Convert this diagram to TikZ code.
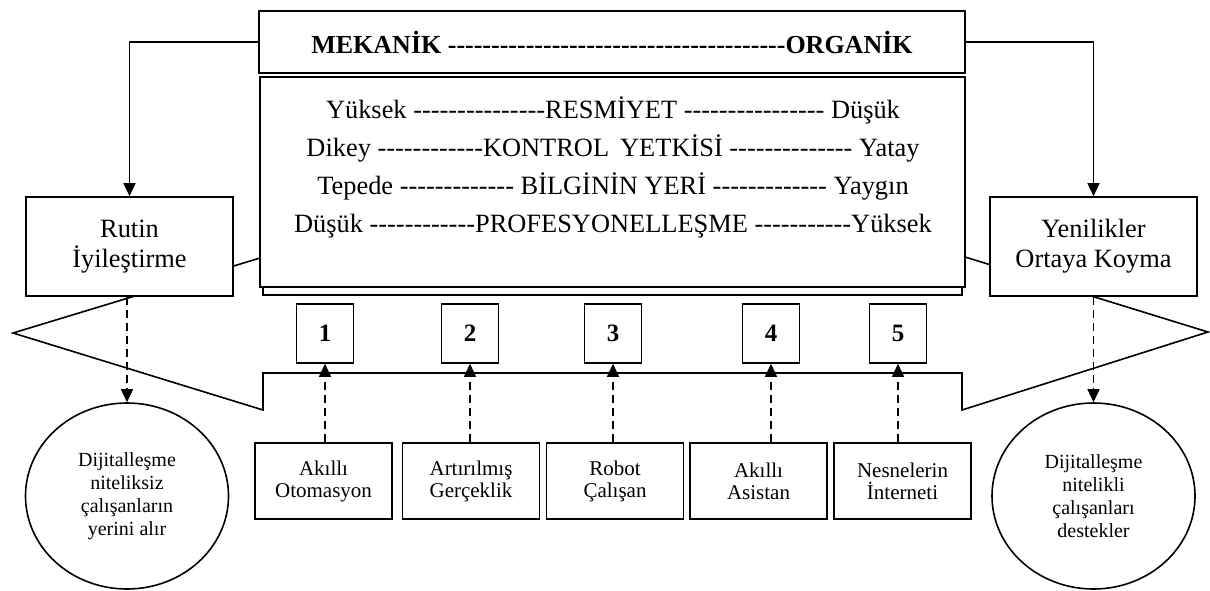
\documentclass[tikz,border=0pt]{standalone}
\usepackage{fontspec}
\setmainfont{Liberation Serif}
\usetikzlibrary{arrows.meta, positioning, shapes.geometric}
\newcommand{\dashrun}[1]{\foreach \k in {1,...,#1}{-\kern0pt}}
\tikzset{%
	plain box/.style={
		rectangle,
		draw,
		fill=white,
		line width=0.8pt,
		align=center,
		inner sep=0pt
	},
	side box/.style={
		plain box,
		minimum width=103.5pt,
		minimum height=49.5pt,
		font=\fontsize{13.2}{15}\selectfont
	},
	number box/.style={
		plain box,
		minimum width=28.5pt,
		minimum height=29.5pt,
		font=\fontsize{12.5}{13}\selectfont\bfseries
	},
	tech box/.style={
		plain box,
		minimum width=68.5pt,
		minimum height=38pt,
		font=\fontsize{10.5}{11}\selectfont
	},
	result circle/.style={
		ellipse,
		draw,
		fill=white,
		line width=0.8pt,
		minimum width=101.5pt,
		minimum height=93pt,
		align=center,
		inner sep=0pt,
		font=\fontsize{10}{11.5}\selectfont
	},
	solid arrow/.style={-{Triangle[length=6.5pt, width=6pt]}, line width=0.8pt},
	dash arrow/.style={solid arrow, dash pattern=on 4pt off 2.5pt},
}
\begin{document}
\begin{tikzpicture}[x=0.5pt, y=-0.5pt]
	\useasboundingbox (0,0) rectangle (1210,590);
	% Draw the wide arrow shape behind everything
	\draw[line width=0.8pt] (260,258) -- (13,333) -- (263,410) -- (263,373) -- (962,373)
		-- (962,410) -- (1208,332) -- (965,257) -- cycle;
	
	% Draw the stacked sheet and the main box
	\draw[fill=white, line width=0.8pt] (263,90) rectangle (962,295);
	\node[plain box, minimum width=352.5pt, minimum height=105pt] (props) at (612.5,182) {};
	\node[font=\fontsize{13.2}{19}\selectfont, align=center] (dims) at (613,167) {%
		Yüksek \dashrun{15}RESMİYET \dashrun{16} Düşük\\
		Dikey \dashrun{12}KONTROL\ \,YETKİSİ \dashrun{14} Yatay\\
		Tepede \dashrun{13} BİLGİNİN YERİ \dashrun{13} Yaygın\\
		Düşük \dashrun{12}PROFESYONELLEŞME \dashrun{11}Yüksek};
	\node[plain box, minimum width=353pt, minimum height=31pt,
		font=\fontsize{13}{15}\selectfont\bfseries] (mo) at (612,42) {MEKANİK \dashrun{39}ORGANİK};
	
	% Side boxes
	\node[side box] (rutin) at (129.5,246.5) {Rutin\\İyileştirme};
	\node[side box] (yenilik) at (1093.5,246.5) {Yenilikler\\Ortaya Koyma};
	\draw[solid arrow] (mo.west) -| (rutin.north);
	\draw[solid arrow] (mo.east) -| (yenilik.north);
	
	% Numbered boxes
	\foreach \n/\x in {1/325, 2/470, 3/613, 4/771, 5/898}
		\node[number box] (n\n) at (\x,333.5) {\n};
	
	% Technologies
	\node[tech box] (t1) at (323.5,481) {Akıllı\\Otomasyon};
	\node[tech box] (t2) at (471,481) {Artırılmış\\Gerçeklik};
	\node[tech box] (t3) at (615,481) {Robot\\Çalışan};
	\node[tech box] (t4) at (758.5,481) {Akıllı\\Asistan};
	\node[tech box] (t5) at (902.5,481) {Nesnelerin\\İnterneti};
	\foreach \n in {1,...,5}
		\draw[dash arrow] (t\n.north -| n\n) -- (n\n.south);
	
	% Results
	\node[result circle] (c1) at (127,496) {Dijitalleşme\\niteliksiz\\çalışanların\\yerini alır};
	\node[result circle] (c2) at (1093.5,496) {Dijitalleşme\\nitelikli\\çalışanları\\destekler};
	\draw[dash arrow] (rutin.south -| c1.north) -- (c1.north);
	\draw[dash arrow] (yenilik.south -| c2.north) -- (c2.north);
\end{tikzpicture}
\end{document}
